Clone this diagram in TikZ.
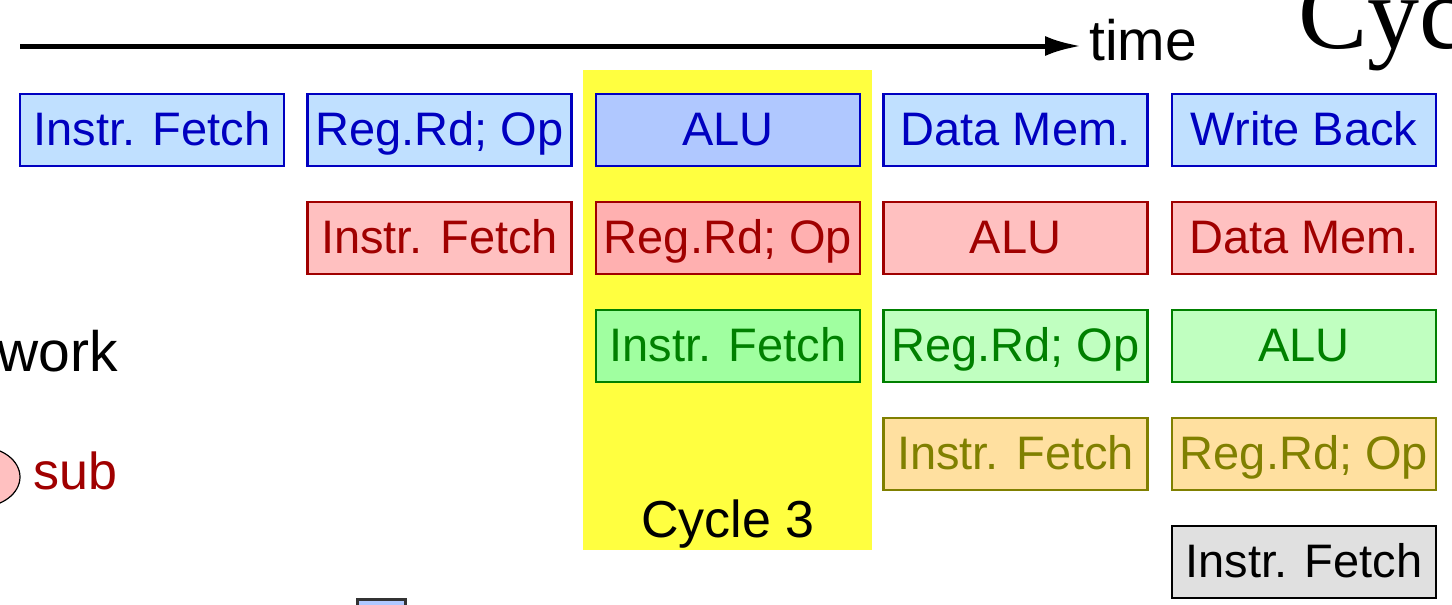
\documentclass[tikz,border=0pt]{standalone}
\usepackage{fontspec}
\setmainfont{Liberation Sans}
\newfontfamily\seriffont{Liberation Serif}
\usetikzlibrary{arrows.meta,shapes.geometric}
\definecolor{bluefill}{HTML}{C0E0FF}
\definecolor{bluefillhi}{HTML}{B0C8FF}
\definecolor{bluetext}{HTML}{0000C0}
\definecolor{redfill}{HTML}{FFC0C0}
\definecolor{redfillhi}{HTML}{FFB0B0}
\definecolor{redtext}{HTML}{A00000}
\definecolor{greenfill}{HTML}{C0FFC0}
\definecolor{greenfillhi}{HTML}{A0FFA0}
\definecolor{greentext}{HTML}{008000}
\definecolor{orangefill}{HTML}{FFE0A0}
\definecolor{orangetext}{HTML}{808000}
\definecolor{grayfill}{HTML}{E0E0E0}
\definecolor{hilite}{HTML}{FFFF40}
\tikzset{
  stage/.style={draw, line width=2.2pt, rectangle, minimum width=264pt, minimum height=72pt, inner sep=0pt, text height=40pt, text depth=10pt, font=\fontsize{47}{56}\selectfont},
  bluestage/.style={stage, fill=bluefill, draw=bluetext, text=bluetext},
  redstage/.style={stage, fill=redfill, draw=redtext, text=redtext},
  greenstage/.style={stage, fill=greenfill, draw=greentext, text=greentext},
  orangestage/.style={stage, fill=orangefill, draw=orangetext, text=orangetext},
  graystage/.style={stage, fill=grayfill, draw=black, text=black},
  bigtext/.style={font=\fontsize{57}{66}\selectfont, inner sep=0pt},
}
\begin{document}
\begin{tikzpicture}[x=1pt,y=-1pt]
\useasboundingbox (0,0) rectangle (1452,605);
% highlighted cycle
\fill[hilite] (583,70) rectangle (872,550);
\node[font=\fontsize{52}{60}\selectfont, anchor=base, inner sep=0pt] (cyc3) at (728,537) {Cycle 3};
% time arrow
\coordinate (ts) at (20,46);
\node[bigtext, anchor=base west] (time) at (1089,60) {time};
\coordinate (te) at ([xshift=-8pt]time.west |- ts);
\draw[line width=5pt, -{Latex[length=36pt,width=20pt]}] (ts) -- (te);
% big serif title (clipped at the edge, as in the reference)
\node[font=\seriffont\fontsize{104}{114}\selectfont, anchor=base west, inner sep=0pt] (title) at (1298,48) {Cyc};
% side texts
\node[bigtext, anchor=base east] (work) at (118,371) {work};
\node[ellipse, draw=black, line width=1.2pt, fill=redfill, minimum width=80pt, minimum height=60pt, inner sep=0pt] (subel) at (-20,477) {};
\node[font=\fontsize{52}{60}\selectfont, text=redtext, anchor=base west, inner sep=0pt] (sub) at (33,489) {sub};
\node[draw=black!80, line width=3pt, fill=bluefillhi, minimum width=48pt, minimum height=40pt, inner sep=0pt, anchor=north west] (small) at (356,598) {};
% row 1
\node[bluestage] (b1) at (152,130) {Instr. Fetch};
\node[bluestage] (b2) at (439.5,130) {Reg.Rd; Op};
\node[bluestage, fill=bluefillhi] (b3) at (728,130) {ALU};
\node[bluestage] (b4) at (1015.5,130) {Data Mem.};
\node[bluestage] (b5) at (1304,130) {Write Back};
% row 2
\node[redstage] (r2) at (439.5,238) {Instr. Fetch};
\node[redstage, fill=redfillhi] (r3) at (728,238) {Reg.Rd; Op};
\node[redstage] (r4) at (1015.5,238) {ALU};
\node[redstage] (r5) at (1304,238) {Data Mem.};
% row 3
\node[greenstage, fill=greenfillhi] (g3) at (728,346) {Instr. Fetch};
\node[greenstage] (g4) at (1015.5,346) {Reg.Rd; Op};
\node[greenstage] (g5) at (1304,346) {ALU};
% row 4
\node[orangestage] (o4) at (1015.5,454) {Instr. Fetch};
\node[orangestage] (o5) at (1304,454) {Reg.Rd; Op};
% row 5
\node[graystage] (k5) at (1304,562) {Instr. Fetch};
\end{tikzpicture}
\end{document}
